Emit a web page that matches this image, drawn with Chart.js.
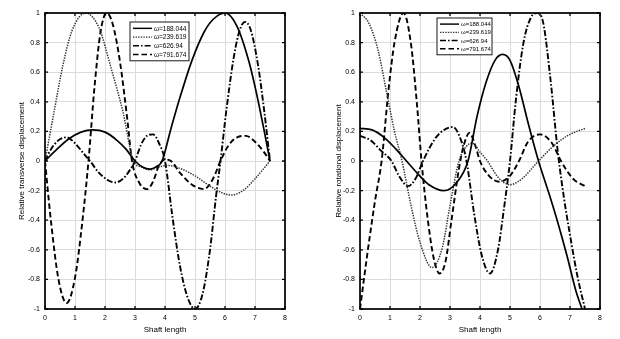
<!DOCTYPE html>
<html>
<head>
<meta charset="utf-8">
<script src="https://cdn.jsdelivr.net/npm/chart.js@4.4.1/dist/chart.umd.min.js"></script>
<style>
  html, body { margin: 0; padding: 0; background: #fff; }
  .panel { position: absolute; top: 0; width: 310px; height: 339px; }
</style>
</head>
<body>
<div class="panel" style="left:0"><canvas id="chart1"></canvas></div>
<div class="panel" style="left:310px"><canvas id="chart2"></canvas></div>
<script>
const legendLabels = ['ω=188.044', 'ω=239.619', 'ω=626.94', 'ω=791.674'];

// transverse mode shapes
const transX1 = [0, 0.4, 0.8, 1.2, 1.6, 2.0, 2.4, 2.7, 3.0, 3.25, 3.5, 3.7, 3.9, 4.2, 4.5, 4.9, 5.3, 5.6, 6.0, 6.4, 6.8, 7.1, 7.3, 7.5];
const transY1 = [0, 0.08, 0.15, 0.195, 0.21, 0.195, 0.14, 0.08, 0, -0.04, -0.055, -0.04, 0, 0.22, 0.43, 0.68, 0.87, 0.956, 1.0, 0.91, 0.67, 0.41, 0.21, 0];
const transX2 = [0, 0.3, 0.6, 0.9, 1.35, 1.8, 2.2, 2.6, 2.95, 3.2, 3.5, 3.8, 4.1, 4.5, 5.0, 5.5, 5.9, 6.2, 6.6, 7.0, 7.5];
const transY2 = [0, 0.33, 0.65, 0.88, 1.0, 0.9, 0.63, 0.33, 0, -0.04, -0.06, -0.04, -0.03, -0.05, -0.1, -0.17, -0.215, -0.23, -0.2, -0.12, 0];
const transX3 = [0, 0.2, 0.45, 0.72, 1.0, 1.25, 1.5, 1.8, 2.1, 2.35, 2.6, 2.8, 3.0, 3.2, 3.4, 3.6, 3.8, 4.0, 4.25, 4.5, 4.75, 5.0, 5.25, 5.5, 5.7, 5.85, 6.05, 6.3, 6.5, 6.67, 6.85, 7.1, 7.3, 7.5];
const transY3 = [0, 0.08, 0.14, 0.16, 0.12, 0.06, 0, -0.08, -0.13, -0.145, -0.12, -0.07, 0, 0.11, 0.17, 0.18, 0.12, 0, -0.38, -0.71, -0.92, -1.0, -0.9, -0.6, -0.24, 0, 0.35, 0.71, 0.89, 0.94, 0.89, 0.65, 0.35, 0];
const transX4 = [0, 0.2, 0.45, 0.72, 1.0, 1.25, 1.45, 1.65, 1.85, 2.05, 2.25, 2.5, 2.75, 2.9, 3.15, 3.4, 3.6, 3.8, 4.0, 4.2, 4.5, 4.9, 5.3, 5.6, 5.85, 6.1, 6.4, 6.7, 7.0, 7.3, 7.5];
const transY4 = [0, -0.41, -0.8, -0.96, -0.79, -0.4, 0, 0.5, 0.87, 1.0, 0.93, 0.67, 0.27, 0, -0.15, -0.19, -0.14, -0.03, 0.01, 0, -0.08, -0.16, -0.19, -0.12, 0, 0.1, 0.16, 0.17, 0.13, 0.06, 0];

// rotational mode shapes
const rotX1 = [0, 0.4, 0.8, 1.2, 1.55, 1.9, 2.3, 2.8, 3.2, 3.6, 3.9, 4.2, 4.5, 4.75, 5.0, 5.3, 5.6, 5.95, 6.3, 6.6, 6.9, 7.2, 7.4];
const rotY1 = [0.22, 0.21, 0.16, 0.08, 0, -0.08, -0.16, -0.2, -0.15, 0, 0.3, 0.53, 0.68, 0.72, 0.68, 0.5, 0.26, 0, -0.22, -0.42, -0.64, -0.88, -1.0];
const rotX2 = [0, 0.3, 0.6, 0.9, 1.15, 1.4, 1.7, 2.0, 2.4, 2.75, 3.0, 3.3, 3.55, 3.75, 4.0, 4.25, 4.6, 5.0, 5.4, 5.95, 6.5, 7.0, 7.5];
const rotY2 = [1.0, 0.93, 0.75, 0.45, 0.2, 0, -0.3, -0.55, -0.72, -0.58, -0.3, 0, 0.1, 0.12, 0.06, 0, -0.11, -0.16, -0.12, 0, 0.11, 0.18, 0.22];
const rotX3 = [0, 0.35, 0.7, 1.05, 1.3, 1.6, 1.85, 2.1, 2.5, 2.8, 3.1, 3.35, 3.55, 3.8, 4.05, 4.33, 4.6, 4.8, 5.0, 5.2, 5.45, 5.7, 5.9, 6.1, 6.35, 6.6, 6.8, 7.0, 7.25, 7.5];
const rotY3 = [0.17, 0.14, 0.07, 0, -0.1, -0.17, -0.12, 0, 0.15, 0.21, 0.23, 0.15, 0, -0.35, -0.63, -0.76, -0.6, -0.32, 0, 0.42, 0.8, 0.97, 1.0, 0.94, 0.55, 0.05, -0.25, -0.5, -0.78, -1.0];
const rotX4 = [0, 0.25, 0.5, 0.72, 0.95, 1.15, 1.45, 1.7, 1.9, 2.05, 2.25, 2.45, 2.65, 2.85, 3.05, 3.3, 3.45, 3.65, 3.85, 4.0, 4.3, 4.65, 5.0, 5.3, 5.6, 6.0, 6.4, 6.7, 7.1, 7.5];
const rotY4 = [-1.0, -0.62, -0.27, 0, 0.48, 0.8, 1.0, 0.79, 0.38, 0, -0.38, -0.65, -0.76, -0.68, -0.4, -0.05, 0.1, 0.19, 0.1, 0, -0.1, -0.14, -0.1, 0, 0.13, 0.18, 0.12, 0, -0.12, -0.17];

const lineStyles = [
  { borderColor: '#000', borderWidth: 1.7, borderDash: [] },
  { borderColor: '#333', borderWidth: 1.5, borderDash: [1.4, 1.2] },
  { borderColor: '#000', borderWidth: 1.9, borderDash: [6, 2, 1.6, 2] },
  { borderColor: '#000', borderWidth: 1.9, borderDash: [5.5, 3] }
];

const fontFamily = '"Liberation Sans", Arial, sans-serif';

function points(xs, ys) {
  return xs.map((x, i) => ({ x: x, y: ys[i] }));
}

// box around the plot area plus inward tick marks
const boxPlugin = {
  id: 'box',
  afterDatasetsDraw(chart) {
    const { ctx, chartArea: a, scales } = chart;
    ctx.save();
    ctx.strokeStyle = '#000';
    ctx.lineWidth = 1.3;
    ctx.beginPath();
    scales.x.ticks.forEach(t => {
      const px = scales.x.getPixelForValue(t.value);
      ctx.moveTo(px, a.bottom); ctx.lineTo(px, a.bottom - 3);
      ctx.moveTo(px, a.top); ctx.lineTo(px, a.top + 3);
    });
    scales.y.ticks.forEach(t => {
      const py = scales.y.getPixelForValue(t.value);
      ctx.moveTo(a.left, py); ctx.lineTo(a.left + 3, py);
      ctx.moveTo(a.right, py); ctx.lineTo(a.right - 3, py);
    });
    ctx.stroke();
    ctx.lineWidth = 1.7;
    ctx.strokeRect(a.left, a.top, a.right - a.left, a.bottom - a.top);
    ctx.restore();
  }
};

// legend box drawn inside the axes
const boxLegend = {
  id: 'boxLegend',
  afterDraw(chart, args, opts) {
    const { ctx } = chart;
    const { x, y, w, rowH, lineLen, fontSize } = opts;
    const n = chart.data.datasets.length;
    const h = rowH * n + 4;
    ctx.save();
    ctx.fillStyle = '#fff';
    ctx.fillRect(x, y, w, h);
    ctx.strokeStyle = '#000';
    ctx.lineWidth = 0.9;
    ctx.strokeRect(x, y, w, h);
    chart.data.datasets.forEach((ds, i) => {
      const ry = y + 2 + rowH * (i + 0.5);
      ctx.beginPath();
      ctx.setLineDash(ds.borderDash);
      ctx.strokeStyle = ds.borderColor;
      ctx.lineWidth = ds.borderWidth * 0.85;
      ctx.moveTo(x + 3, ry);
      ctx.lineTo(x + 3 + lineLen, ry);
      ctx.stroke();
      ctx.setLineDash([]);
      ctx.fillStyle = '#000';
      ctx.font = fontSize + 'px ' + fontFamily;
      ctx.textBaseline = 'middle';
      ctx.fillText(ds.label, x + 5 + lineLen, ry + 0.5);
    });
    ctx.restore();
  }
};

function makeChart(id, xs, ys, yTitle, layout) {
  return new Chart(document.getElementById(id), {
    type: 'line',
    data: {
      datasets: legendLabels.map((label, i) => Object.assign({
        label: label,
        data: points(xs[i], ys[i]),
        pointRadius: 0,
        fill: false,
        tension: 0,
        cubicInterpolationMode: 'monotone'
      }, lineStyles[i]))
    },
    options: {
      responsive: true,
      maintainAspectRatio: false,
      animation: false,
      layout: { padding: { top: 13, right: layout.right, bottom: 0, left: 0 } },
      plugins: {
        legend: { display: false },
        tooltip: { enabled: false },
        boxLegend: layout.legend
      },
      scales: {
        x: {
          type: 'linear',
          min: 0,
          max: 8,
          afterFit(s) { s.height = 30; },
          border: { display: false },
          grid: { color: '#dcdcdc', lineWidth: 1, drawTicks: false },
          ticks: { stepSize: 1, padding: 5, color: '#000', font: { family: fontFamily, size: 7 } },
          title: { display: true, text: 'Shaft length', color: '#000', padding: { top: 2 }, font: { family: fontFamily, size: 8 } }
        },
        y: {
          min: -1,
          max: 1,
          afterFit(s) { s.width = layout.yWidth; },
          border: { display: false },
          grid: { color: '#dcdcdc', lineWidth: 1, drawTicks: false },
          ticks: {
            stepSize: 0.2, padding: 5, color: '#000',
            font: { family: fontFamily, size: 7 },
            callback: v => String(+v.toFixed(1))
          },
          title: { display: true, text: yTitle, color: '#000', padding: { top: layout.titlePad, bottom: 0 }, font: { family: fontFamily, size: 8 } }
        }
      }
    },
    plugins: [boxPlugin, boxLegend]
  });
}

makeChart('chart1',
  [transX1, transX2, transX3, transX4],
  [transY1, transY2, transY3, transY4],
  'Relative transverse displacement',
  { right: 25, yWidth: 45, titlePad: 17, legend: { x: 130, y: 22, w: 59, rowH: 8.7, lineLen: 19, fontSize: 6.5 } });

makeChart('chart2',
  [rotX1, rotX2, rotX3, rotX4],
  [rotY1, rotY2, rotY3, rotY4],
  'Relative rotational displacement',
  { right: 20, yWidth: 50, titlePad: 24, legend: { x: 127, y: 18, w: 55, rowH: 8.2, lineLen: 19, fontSize: 6 } });
</script>
</body>
</html>
